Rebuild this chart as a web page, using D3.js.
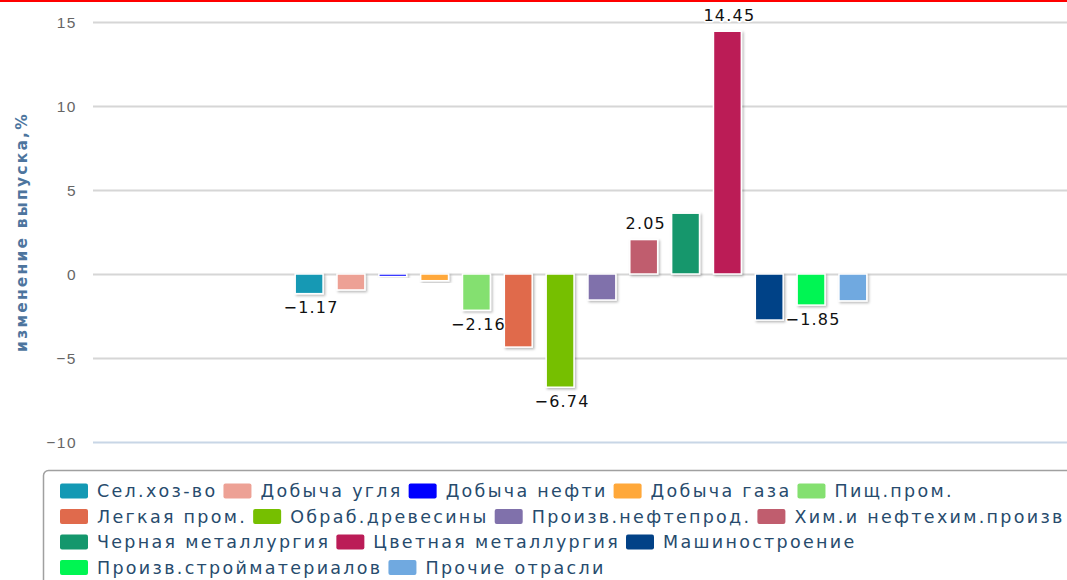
<!DOCTYPE html>
<html>
<head>
<meta charset="utf-8">
<script src="https://cdn.jsdelivr.net/npm/d3@7"></script>
<style>
  body { margin: 0; background: #fff; }
  svg { display: block; font-family: "DejaVu Sans", Verdana, sans-serif; }
</style>
</head>
<body>
<div id="chart"></div>
<script>
// Series (one bar each, single category)
const industries = [
    'Сел.хоз-во', 'Добыча угля', 'Добыча нефти', 'Добыча газа', 'Пищ.пром.',
    'Легкая пром.', 'Обраб.древесины', 'Произв.нефтепрод.', 'Хим.и нефтехим.произв',
    'Черная металлургия', 'Цветная металлургия', 'Машиностроение',
    'Произв.стройматериалов', 'Прочие отрасли'
];
const changes = [-1.17, -0.95, -0.15, -0.4, -2.16, -4.35, -6.74, -1.55, 2.05, 3.62, 14.45, -2.74, -1.85, -1.6];
const colors = ['#1399b4', '#eda195', '#0000ff', '#ffa83a', '#84e070', '#e06a4c', '#76bf00',
    '#8071ab', '#c05d6e', '#14976c', '#bb1c57', '#024287', '#00f552', '#70a9e0'];
// labels that survive the overlap check in the original
const labelShown = [true, false, false, false, true, false, true, false, true, false, true, false, true, false];
const yTicks = [-10, -5, 0, 5, 10, 15];
const yTitle = 'изменение выпуска,%';
const legendRows = [[0, 1, 2, 3, 4], [5, 6, 7, 8], [9, 10, 11], [12, 13]];

const width = 1067;
const height = 580;
const plot = {left: 93, right: 1069, top: 22, bottom: 442};

const svg = d3.select('#chart')
    .append('svg')
    .attr('width', width)
    .attr('height', height);

const defs = svg.append('defs');
const shadow = defs.append('filter')
    .attr('id', 'shadow')
    .attr('x', '-20%').attr('y', '-20%')
    .attr('width', '150%').attr('height', '150%');
shadow.append('feDropShadow')
    .attr('dx', 1.5).attr('dy', 1.5)
    .attr('stdDeviation', 1.3)
    .attr('flood-color', '#000')
    .attr('flood-opacity', 0.28);

const y = d3.scaleLinear()
    .domain([-10, 15])
    .range([plot.bottom, plot.top]);

// one category, series grouped inside it
const cat = d3.scaleBand()
    .domain(['all'])
    .range([plot.left, plot.right]);
const groupPad = (plot.right - plot.left) * 0.2;
const x = d3.scaleBand()
    .domain(industries)
    .range([cat('all') + groupPad, cat('all') + cat.bandwidth() - groupPad])
    .paddingInner(1 / 3)
    .paddingOuter(1 / 6);

const fmt = d3.format('.2f');

// grid
svg.append('g')
    .selectAll('line')
    .data(yTicks)
    .enter().append('line')
    .attr('x1', plot.left)
    .attr('x2', width)
    .attr('y1', d => Math.round(y(d)) + 0.5)
    .attr('y2', d => Math.round(y(d)) + 0.5)
    .attr('stroke', d => d === -10 ? '#c8d6e6' : '#d6d6d6')
    .attr('stroke-width', 2);

// y axis labels
const yAxis = svg.append('g')
    .attr('transform', `translate(${plot.left - 16},0)`)
    .call(d3.axisLeft(y).tickValues(yTicks).tickSize(0).tickPadding(0));
yAxis.select('.domain').remove();
yAxis.selectAll('text')
    .attr('fill', '#666')
    .style('font-size', '15.5px')
    .style('letter-spacing', '1.5px')
    .attr('dy', '0.35em');

svg.append('text')
    .attr('transform', `translate(27,232) rotate(-90)`)
    .attr('text-anchor', 'middle')
    .attr('fill', '#4d759e')
    .style('font-size', '15.5px')
    .style('font-weight', 'bold')
    .style('letter-spacing', '2.2px')
    .text(yTitle);

// bars
const bars = svg.append('g');
bars.selectAll('rect')
    .data(changes)
    .enter().append('rect')
    .attr('x', (d, i) => x(industries[i]))
    .attr('width', x.bandwidth())
    .attr('y', d => y(Math.max(0, d)))
    .attr('height', d => Math.max(1, Math.abs(y(d) - y(0))))
    .attr('fill', (d, i) => colors[i])
    .attr('stroke', '#fff')
    .attr('stroke-width', 1.5)
    .attr('filter', 'url(#shadow)');

// data labels
const labels = svg.append('g')
    .style('font-size', '16px')
    .style('letter-spacing', '1.2px')
    .attr('text-anchor', 'middle');
const labelData = changes.map((v, i) => ({v, i})).filter(d => labelShown[d.i]);
const labelX = d => x(industries[d.i]) + x.bandwidth() / 2 + 2;
const labelY = d => d.v >= 0 ? y(d.v) - 16 : y(d.v) + 14;
labels.selectAll('text.halo')
    .data(labelData)
    .enter().append('text')
    .attr('class', 'halo')
    .attr('x', labelX)
    .attr('y', labelY)
    .attr('dy', '0.35em')
    .attr('fill', '#fff')
    .attr('stroke', '#fff')
    .attr('stroke-width', 3)
    .attr('stroke-linejoin', 'round')
    .text(d => fmt(d.v));
labels.selectAll('text.lbl')
    .data(labelData)
    .enter().append('text')
    .attr('class', 'lbl')
    .attr('x', labelX)
    .attr('y', labelY)
    .attr('dy', '0.35em')
    .attr('fill', '#111')
    .text(d => fmt(d.v));

// legend
const legend = svg.append('g');
legend.append('rect')
    .attr('x', 43.5)
    .attr('y', 470.5)
    .attr('width', 1100)
    .attr('height', 200)
    .attr('rx', 5)
    .attr('fill', '#fff')
    .attr('stroke', '#a0a0a0')
    .attr('stroke-width', 1.5);

legendRows.forEach((row, r) => {
    let cx = 60;
    const cy = 491 + r * 25.5;
    row.forEach(i => {
        const item = legend.append('g').attr('transform', `translate(${cx},${cy})`);
        item.append('rect')
            .attr('x', 0)
            .attr('y', -7.5)
            .attr('width', 28)
            .attr('height', 15)
            .attr('rx', 2)
            .attr('fill', colors[i]);
        const t = item.append('text')
            .attr('x', 37)
            .attr('dy', '0.36em')
            .attr('fill', '#274b6d')
            .style('font-size', '17.5px')
            .style('letter-spacing', '2.3px')
            .text(industries[i]);
        cx += 37 + t.node().getComputedTextLength() + 6;
    });
});

// red rule across the top of the screenshot
svg.append('rect')
    .attr('x', 0).attr('y', 0)
    .attr('width', width).attr('height', 2)
    .attr('fill', '#ff0000');
</script>
</body>
</html>
